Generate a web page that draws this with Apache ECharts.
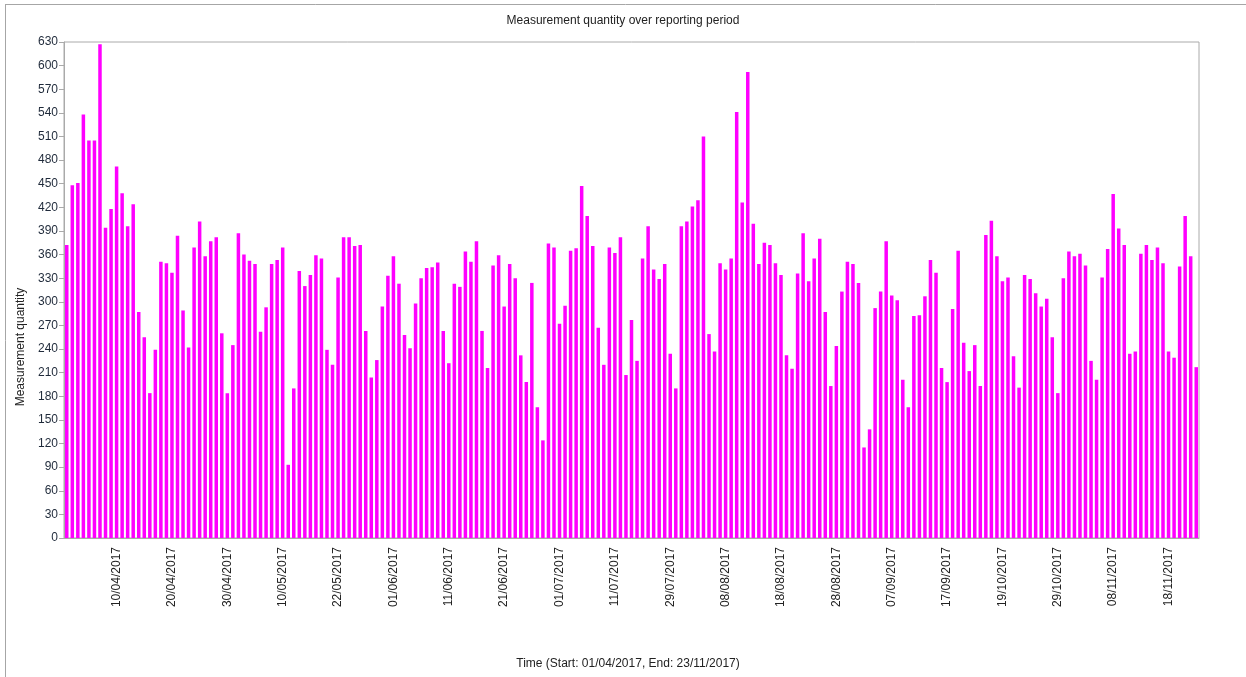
<!DOCTYPE html>
<html>
<head>
<meta charset="utf-8">
<title>Measurement quantity over reporting period</title>
<script src="https://cdn.jsdelivr.net/npm/echarts@6/dist/echarts.min.js"></script>
<style>
	html, body { margin: 0; padding: 0; background: #fff; }
	#chart { width: 1246px; height: 677px; }
</style>
</head>
<body>
<div id="chart"></div>
<script>
	"use strict";

	var titleText = 'Measurement quantity over reporting period';
	var yAxisName = 'Measurement quantity';
	var xAxisName = 'Time (Start: 01/04/2017, End: 23/11/2017)';

	// dates printed under the axis, one every 10 bars (bar 9, 19, ...)
	var tickLabels = ['10/04/2017', '20/04/2017', '30/04/2017', '10/05/2017', '22/05/2017',
		'01/06/2017', '11/06/2017', '21/06/2017', '01/07/2017', '11/07/2017',
		'29/07/2017', '08/08/2017', '18/08/2017', '28/08/2017', '07/09/2017',
		'17/09/2017', '19/10/2017', '29/10/2017', '08/11/2017', '18/11/2017'];

	// one value per reporting day
	var quantities = [
		372, 448, 451, 538, 505, 505, 627, 394, 418, 472,
		438, 396, 424, 287, 255, 184, 239, 351, 349, 337,
		384, 289, 242, 369, 402, 358, 377, 382, 260, 184,
		245, 387, 360, 352, 348, 262, 293, 348, 353, 369,
		93, 190, 339, 320, 334, 359, 355, 239, 220, 331,
		382, 382, 371, 372, 263, 204, 226, 294, 333, 358,
		323, 258, 241, 298, 330, 343, 344, 350, 263, 222,
		323, 319, 364, 351, 377, 263, 216, 346, 359, 294,
		348, 330, 232, 198, 324, 166, 124, 374, 369, 272,
		295, 365, 368, 447, 409, 371, 267, 220, 369, 362,
		382, 207, 277, 225, 355, 396, 341, 329, 348, 234,
		190, 396, 402, 421, 429, 510, 259, 237, 349, 341,
		355, 541, 426, 592, 399, 348, 375, 372, 349, 334,
		232, 215, 336, 387, 326, 355, 380, 287, 193, 244,
		313, 351, 348, 324, 115, 138, 292, 313, 377, 308,
		302, 201, 166, 282, 283, 307, 353, 337, 216, 198,
		291, 365, 248, 212, 245, 193, 385, 403, 358, 326,
		331, 231, 191, 334, 329, 311, 294, 304, 255, 184,
		330, 364, 358, 361, 346, 225, 201, 331, 367, 437,
		393, 372, 234, 237, 361, 372, 353, 369, 349, 237,
		229, 345, 409, 358, 217
	];

	var yMin = 0, yMax = 630, yStep = 30;

	var font = 'Liberation Sans, Arial, sans-serif';

	// category names: the labelled days carry their date, the rest just their position
	var categories = [];
	for (var i = 0; i < quantities.length; i++) {
		categories.push(i % 10 === 9 && tickLabels[(i - 9) / 10] ? tickLabels[(i - 9) / 10] : 'd' + i);
	}

	function isLabelled(index) {
		return index % 10 === 9;
	}

	var myChart = echarts.init(document.getElementById('chart'), null, { renderer: 'canvas' });

	var option = {
		animation: false,
		backgroundColor: '#fff',
		title: {
			text: titleText,
			left: 'center',
			top: 10,
			textStyle: { fontFamily: font, fontSize: 12, fontWeight: 'normal', color: '#222' }
		},
		grid: {
			left: 64,
			right: 47,
			top: 42,
			bottom: 139,
			show: true,
			borderColor: '#aaa',
			borderWidth: 1
		},
		xAxis: {
			type: 'category',
			data: categories,
			boundaryGap: true,
			axisLine: { lineStyle: { color: '#aaa' } },
			axisTick: { alignWithLabel: true, interval: isLabelled, length: 5, lineStyle: { color: '#aaa' } },
			axisLabel: {
				interval: isLabelled,
				rotate: 90,
				margin: 9,
				fontFamily: font,
				fontSize: 12,
				color: '#222'
			},
			splitLine: { show: false }
		},
		yAxis: {
			type: 'value',
			min: yMin,
			max: yMax,
			interval: yStep,
			axisLine: { show: true, lineStyle: { color: '#aaa' } },
			axisTick: { show: true, length: 5, lineStyle: { color: '#aaa' } },
			axisLabel: { fontFamily: font, fontSize: 12, color: '#1f2a3a', margin: 6 },
			splitLine: { show: false }
		},
		series: [{
			type: 'bar',
			data: quantities,
			barWidth: 3.5,
			itemStyle: { color: '#ff00ff' }
		}],
		graphic: [
			{ type: 'line', shape: { x1: 5, y1: 4.5, x2: 1246, y2: 4.5 }, style: { stroke: '#a6a6a6', lineWidth: 1 } },
			{ type: 'line', shape: { x1: 5.5, y1: 4, x2: 5.5, y2: 677 }, style: { stroke: '#a6a6a6', lineWidth: 1 } },
			{
				type: 'text',
				x: 21,
				y: 347,
				rotation: Math.PI / 2,
				style: { text: yAxisName, font: '12px ' + font, fill: '#222', align: 'center', verticalAlign: 'middle' }
			},
			{
				type: 'text',
				x: 628,
				y: 664,
				style: { text: xAxisName, font: '12px ' + font, fill: '#222', align: 'center', verticalAlign: 'middle' }
			}
		]
	};

	if (option && typeof option === "object") {
		myChart.setOption(option, true);
	}
</script>
</body>
</html>
